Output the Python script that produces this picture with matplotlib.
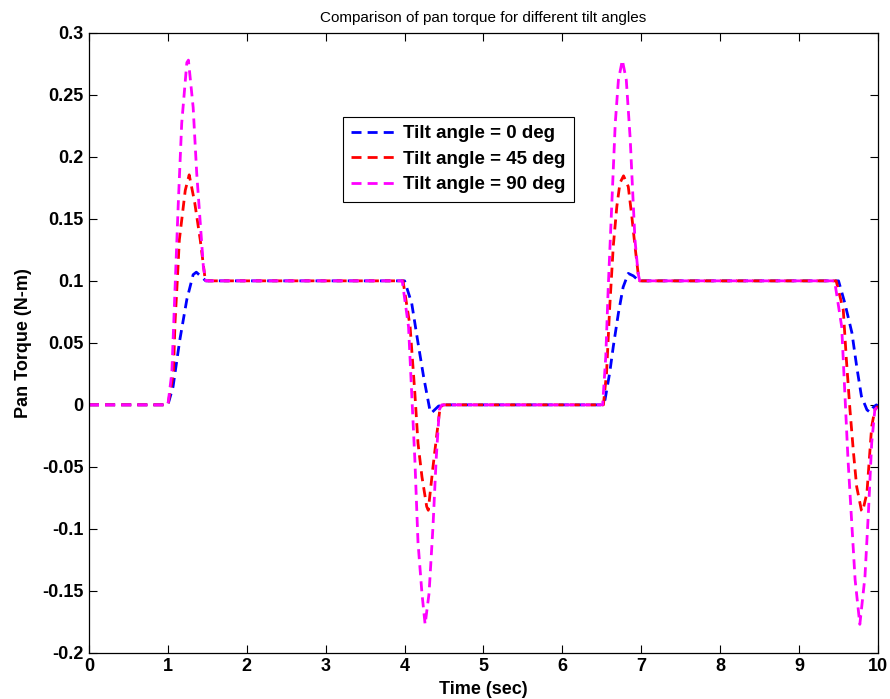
import matplotlib
matplotlib.use("Agg")
import matplotlib.pyplot as plt

# Pan torque samples (time in s, torque in N-m) for each tilt angle
t_tilt0 = [0, 1.0, 1.065, 1.15, 1.24, 1.32, 1.36, 1.43, 1.48,
           4.0, 4.09, 4.17, 4.24, 4.32, 4.34, 4.43, 4.49,
           6.5, 6.54, 6.60, 6.645, 6.71, 6.77, 6.835, 6.9, 6.97,
           9.5, 9.58, 9.67, 9.73, 9.79, 9.86, 9.90, 9.94, 9.98, 10.0]
y_tilt0 = [0, 0, 0.0145, 0.052, 0.085, 0.105, 0.107, 0.103, 0.100,
           0.100, 0.082, 0.050, 0.023, -0.004, -0.0065, -0.001, 0,
           0, 0.004, 0.026, 0.047, 0.074, 0.095, 0.106, 0.104, 0.100,
           0.100, 0.082, 0.058, 0.031, 0.007, -0.004, -0.006, -0.002, 0, -0.001]

t_tilt45 = [0, 1.0, 1.07, 1.09, 1.124, 1.145, 1.22, 1.27, 1.34, 1.41, 1.47, 1.5,
            3.98, 4.07, 4.13, 4.17, 4.22, 4.28, 4.30, 4.36, 4.41, 4.45, 4.49,
            6.52, 6.56, 6.60, 6.645, 6.69, 6.73, 6.775, 6.835, 6.88, 6.92, 6.96, 6.98,
            9.47, 9.56, 9.60, 9.645, 9.69, 9.73, 9.79, 9.805, 9.86, 9.89, 9.92, 9.96, 10.0]
y_tilt45 = [0, 0, 0.026, 0.066, 0.106, 0.133, 0.173, 0.1855, 0.163, 0.133, 0.1024, 0.1,
            0.1, 0.063, 0.0095, -0.031, -0.058, -0.082, -0.085, -0.05, -0.023, -0.002, 0,
            0, 0.026, 0.079, 0.128, 0.16, 0.179, 0.1847, 0.176, 0.152, 0.128, 0.106, 0.1,
            0.1, 0.0766, 0.036, -0.004, -0.039, -0.066, -0.085, -0.086, -0.071, -0.044, -0.0175, -0.004, -0.001]

t_tilt90 = [0, 1.0, 1.05, 1.09, 1.13, 1.175, 1.24, 1.26, 1.32, 1.365, 1.41, 1.45, 1.48,
            3.97, 4.05, 4.09, 4.13, 4.17, 4.22, 4.26, 4.31, 4.36, 4.40, 4.44, 4.47,
            6.51, 6.55, 6.58, 6.625, 6.67, 6.71, 6.76, 6.81, 6.86, 6.89, 6.92, 6.96, 6.98,
            9.45, 9.54, 9.58, 9.62, 9.67, 9.71, 9.77, 9.835, 9.88, 9.92, 9.96, 10.0]
y_tilt90 = [0, 0, 0.026, 0.093, 0.16, 0.227, 0.276, 0.278, 0.24, 0.187, 0.147, 0.111, 0.1,
            0.1, 0.063, 0.0095, -0.044, -0.111, -0.152, -0.177, -0.152, -0.098, -0.044, -0.004, 0,
            0, 0.039, 0.093, 0.16, 0.227, 0.262, 0.278, 0.262, 0.214, 0.173, 0.133, 0.106, 0.1,
            0.1, 0.063, 0.0095, -0.044, -0.098, -0.141, -0.177, -0.1385, -0.085, -0.031, -0.004, -0.001]

series_labels = ["Tilt angle = 0 deg", "Tilt angle = 45 deg", "Tilt angle = 90 deg"]
series_colors = ["#0000ff", "#ff0000", "#ff00ff"]

x_ticks = [0, 1, 2, 3, 4, 5, 6, 7, 8, 9, 10]
y_ticks = [-0.2, -0.15, -0.1, -0.05, 0, 0.05, 0.1, 0.15, 0.2, 0.25, 0.3]
y_tick_labels = ["-0.2", "-0.15", "-0.1", "-0.05", "0", "0.05", "0.1", "0.15", "0.2", "0.25", "0.3"]

plt.rcParams["font.family"] = ["Liberation Sans", "DejaVu Sans"]

fig = plt.figure(figsize=(8.9, 6.99), dpi=100)
ax = fig.add_axes([0.1, 0.066, 0.8865, 0.887])

for t, y, lab, col in zip([t_tilt0, t_tilt45, t_tilt90],
                          [y_tilt0, y_tilt45, y_tilt90],
                          series_labels, series_colors):
    ax.plot(t, y, color=col, lw=2.0, linestyle=(0, (3.6, 2.2)), label=lab)

ax.set_xlim(0, 10)
ax.set_ylim(-0.2, 0.3)
ax.set_xticks(x_ticks)
ax.set_xticklabels([str(v) for v in x_ticks])
ax.set_yticks(y_ticks)
ax.set_yticklabels(y_tick_labels)
ax.tick_params(direction="in", length=6, width=0.8, top=True, right=True,
               labelsize=13, pad=4)
for lbl in ax.get_xticklabels() + ax.get_yticklabels():
    lbl.set_fontweight("bold")
for sp in ax.spines.values():
    sp.set_linewidth(0.9)

ax.set_xlabel("Time (sec)", fontsize=13, fontweight="bold", labelpad=4)
ax.set_ylabel("Pan Torque (N-m)", fontsize=13, fontweight="bold", labelpad=7)
ax.set_title("Comparison of pan torque for different tilt angles", fontsize=11, pad=8)

leg = ax.legend(loc="upper left", bbox_to_anchor=(0.322, 0.865),
                prop={"weight": "bold", "size": 13.5}, frameon=True, fancybox=False,
                edgecolor="black", framealpha=1, handlelength=2.4, handletextpad=0.35,
                borderpad=0.45, labelspacing=0.45, borderaxespad=0)
leg.get_frame().set_linewidth(0.8)

fig.savefig("out.png", dpi=100)
